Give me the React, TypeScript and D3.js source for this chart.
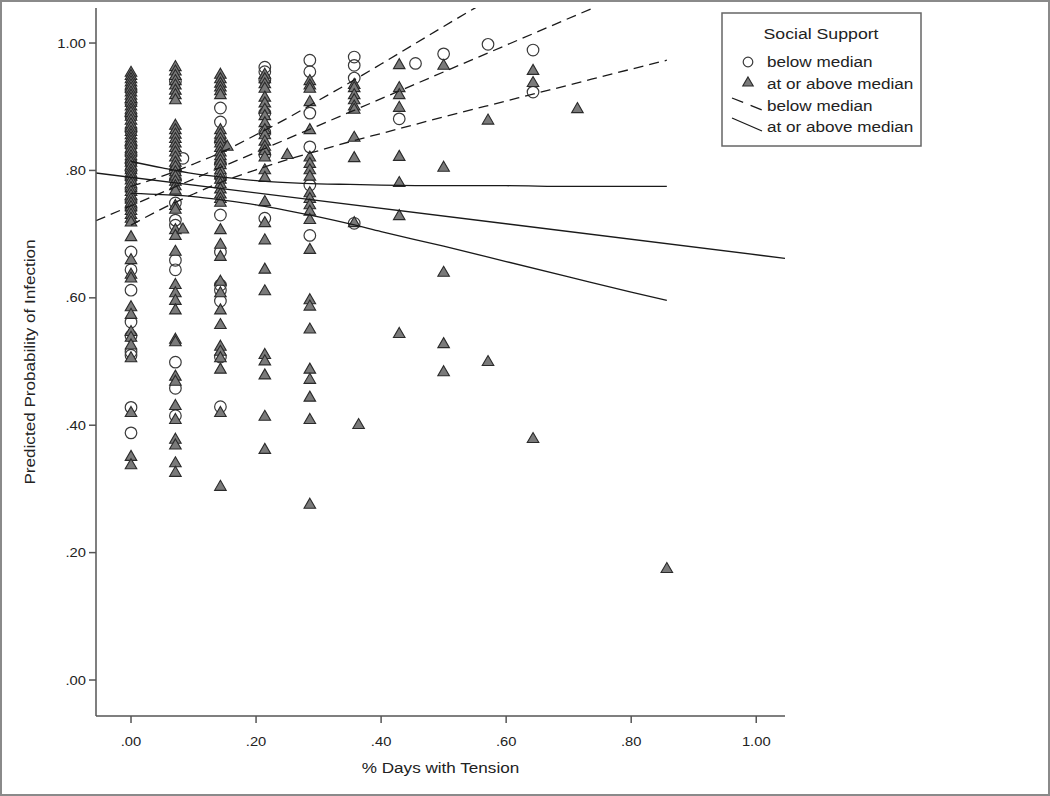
import React from 'react';
import * as d3 from 'd3';

const W = 1050;
const H = 796;

const xTickValues = [0, 0.2, 0.4, 0.6, 0.8, 1.0];
const xTickLabels = ['.00', '.20', '.40', '.60', '.80', '1.00'];
const yTickValues = [0, 0.2, 0.4, 0.6, 0.8, 1.0];
const yTickLabels = ['.00', '.20', '.40', '.60', '.80', '1.00'];
const xTitle = '% Days with Tension';
const yTitle = 'Predicted Probability of Infection';
const legendTitle = 'Social Support';
const groupLabels = ['below median', 'at or above median'];

// circles: social support below median  [x, y-values]
const belowMedian: [number, number[]][] = [
  [0, [0.925, 0.905, 0.885, 0.862, 0.838, 0.825, 0.812, 0.8, 0.787, 0.77, 0.752, 0.74, 0.672, 0.644, 0.612, 0.562, 0.54, 0.515, 0.51, 0.428, 0.388]],
  [0.071, [0.94, 0.8, 0.785, 0.749, 0.722, 0.714, 0.659, 0.644, 0.499, 0.458, 0.415]],
  [0.083, [0.819]],
  [0.143, [0.898, 0.876, 0.845, 0.81, 0.79, 0.73, 0.672, 0.62, 0.612, 0.595, 0.507, 0.429]],
  [0.214, [0.962, 0.955, 0.942, 0.89, 0.86, 0.825, 0.725]],
  [0.286, [0.973, 0.955, 0.89, 0.837, 0.777, 0.698]],
  [0.357, [0.978, 0.965, 0.945, 0.717]],
  [0.429, [0.881]],
  [0.455, [0.968]],
  [0.5, [0.983]],
  [0.571, [0.998]],
  [0.643, [0.989, 0.923]],
];

// triangles: social support at or above median
const atOrAboveMedian: [number, number[]][] = [
  [0, [0.953, 0.948, 0.943, 0.938, 0.933, 0.928, 0.922, 0.917, 0.912, 0.906, 0.9, 0.895, 0.89, 0.884, 0.878, 0.872, 0.866, 0.86, 0.855, 0.85, 0.845, 0.84, 0.834, 0.828, 0.822, 0.817, 0.812, 0.806, 0.8, 0.795, 0.79, 0.784, 0.778, 0.772, 0.766, 0.76, 0.754, 0.748, 0.742, 0.736, 0.73, 0.724, 0.718, 0.695, 0.659, 0.636, 0.63, 0.585, 0.573, 0.546, 0.537, 0.525, 0.505, 0.419, 0.35, 0.337]],
  [0.071, [0.962, 0.955, 0.948, 0.94, 0.933, 0.925, 0.918, 0.91, 0.87, 0.863, 0.856, 0.849, 0.842, 0.835, 0.828, 0.82, 0.812, 0.805, 0.797, 0.79, 0.782, 0.775, 0.768, 0.744, 0.738, 0.706, 0.697, 0.672, 0.62, 0.607, 0.595, 0.58, 0.534, 0.53, 0.476, 0.468, 0.43, 0.408, 0.377, 0.368, 0.34, 0.325]],
  [0.083, [0.707]],
  [0.143, [0.95, 0.943, 0.936, 0.93, 0.924, 0.918, 0.863, 0.856, 0.849, 0.842, 0.835, 0.828, 0.822, 0.815, 0.808, 0.8, 0.792, 0.785, 0.778, 0.77, 0.762, 0.755, 0.749, 0.706, 0.683, 0.664, 0.625, 0.607, 0.58, 0.557, 0.523, 0.515, 0.505, 0.487, 0.419, 0.303]],
  [0.154, [0.837]],
  [0.214, [0.95, 0.943, 0.935, 0.928, 0.914, 0.905, 0.895, 0.885, 0.874, 0.863, 0.855, 0.845, 0.837, 0.83, 0.82, 0.8, 0.788, 0.75, 0.717, 0.69, 0.644, 0.61, 0.51, 0.5, 0.478, 0.413, 0.361]],
  [0.25, [0.824]],
  [0.286, [0.94, 0.933, 0.928, 0.907, 0.863, 0.82, 0.81, 0.8, 0.79, 0.764, 0.755, 0.745, 0.735, 0.722, 0.675, 0.596, 0.586, 0.55, 0.487, 0.471, 0.443, 0.408, 0.275]],
  [0.357, [0.934, 0.929, 0.918, 0.91, 0.9, 0.895, 0.851, 0.819, 0.717]],
  [0.364, [0.4]],
  [0.429, [0.965, 0.929, 0.918, 0.898, 0.821, 0.78, 0.728, 0.543]],
  [0.5, [0.964, 0.804, 0.639, 0.527, 0.483]],
  [0.571, [0.878, 0.499]],
  [0.643, [0.956, 0.937, 0.378]],
  [0.714, [0.896]],
  [0.857, [0.174]],
];

// fit lines (endpoints at the axis limits) and 95% CI bands
const fitX = [-0.056, 1.046];
const belowFitY = [0.721, 1.184];
const aboveFitY = [0.796, 0.662];

const bandX = [0, 0.05, 0.1, 0.15, 0.2, 0.25, 0.3, 0.35, 0.4, 0.5, 0.6, 0.7, 0.8, 0.857];
const belowUpper = [0.775, 0.791, 0.81, 0.831, 0.856, 0.882, 0.91, 0.938, 0.967, 1.026, 1.084, 1.143, 1.203, 1.236];
const belowLower = [0.714, 0.74, 0.763, 0.784, 0.801, 0.817, 0.831, 0.845, 0.858, 0.884, 0.909, 0.934, 0.959, 0.973];
const aboveUpper = [0.814, 0.804, 0.795, 0.789, 0.784, 0.781, 0.779, 0.778, 0.777, 0.776, 0.776, 0.775, 0.775, 0.775];
const aboveLower = [0.764, 0.762, 0.759, 0.753, 0.746, 0.737, 0.727, 0.716, 0.704, 0.681, 0.657, 0.633, 0.609, 0.596];

const xDomain = [-0.056, 1.046];
const yDomain = [-0.0565, 1.055];

const PLOT = { left: 96, right: 785, top: 8, bottom: 716 };
const FONT = '"Liberation Sans", Arial, sans-serif';
const SX = 1.18;
const TEXT = '#222';
const AXIS = '#555';
const LINE = '#1a1a1a';
const DASH = '10,6';

function T(props: { x: number; y: number; anchor?: string; size: number; rotate?: number; children: React.ReactNode }) {
  const { x, y, anchor = 'start', size, rotate = 0, children } = props;
  return (
    <text
      transform={`translate(${x},${y}) rotate(${rotate}) scale(${SX},1)`}
      textAnchor={anchor}
      fontSize={size}
      fontFamily={FONT}
      fill={TEXT}
    >
      {children}
    </text>
  );
}

export default function App() {
  const x = d3.scaleLinear().domain(xDomain).range([PLOT.left, PLOT.right]);
  const y = d3.scaleLinear().domain(yDomain).range([PLOT.bottom, PLOT.top]);

  const tri = d3.symbol().type(d3.symbolTriangle).size(58)();
  const triLegend = d3.symbol().type(d3.symbolTriangle).size(48)();

  const straight = d3.line<[number, number]>().x((d) => x(d[0])).y((d) => y(d[1]));
  const curved = d3
    .line<[number, number]>()
    .x((d) => x(d[0]))
    .y((d) => y(d[1]))
    .curve(d3.curveMonotoneX);

  const pairs = (xs: number[], ys: number[]) => xs.map((v, i) => [v, ys[i]] as [number, number]);

  const circles = belowMedian.flatMap(([cx, ys]) => ys.map((v) => [cx, v] as [number, number]));
  const triangles = atOrAboveMedian.flatMap(([cx, ys]) => ys.map((v) => [cx, v] as [number, number]));

  return (
    <svg
      width={W}
      height={H}
      style={{ position: 'absolute', left: 0, top: 0, background: '#fff' }}
    >
      <rect x={0} y={0} width={W} height={H} fill="#fff" />
      <rect x={1} y={1} width={W - 2} height={H - 2} fill="none" stroke="#8a8a8a" strokeWidth={2} />
      <defs>
        <clipPath id="plotClip">
          <rect x={PLOT.left} y={PLOT.top} width={PLOT.right - PLOT.left} height={PLOT.bottom - PLOT.top} />
        </clipPath>
      </defs>

      {/* points */}
      <g>
        {circles.map((d, i) => (
          <circle key={'c' + i} cx={x(d[0])} cy={y(d[1])} r={5.8} fill="none" stroke="#3a3a3a" strokeWidth={1.2} />
        ))}
        {triangles.map((d, i) => (
          <path
            key={'t' + i}
            d={tri}
            transform={`translate(${x(d[0])},${y(d[1])})`}
            fill="#7a7a7a"
            stroke="#2a2a2a"
            strokeWidth={1.1}
          />
        ))}
      </g>

      {/* fit lines and confidence bands */}
      <g clipPath="url(#plotClip)" fill="none" stroke={LINE} strokeWidth={1.3}>
        <path d={straight(pairs(fitX, belowFitY)) || ''} strokeDasharray={DASH} />
        <path d={curved(pairs(bandX, belowUpper)) || ''} strokeDasharray={DASH} />
        <path d={curved(pairs(bandX, belowLower)) || ''} strokeDasharray={DASH} />
        <path d={straight(pairs(fitX, aboveFitY)) || ''} />
        <path d={curved(pairs(bandX, aboveUpper)) || ''} />
        <path d={curved(pairs(bandX, aboveLower)) || ''} />
      </g>

      {/* axes */}
      <g stroke={AXIS} strokeWidth={1.5}>
        <line x1={PLOT.left} y1={PLOT.top} x2={PLOT.left} y2={PLOT.bottom} />
        <line x1={PLOT.left} y1={PLOT.bottom} x2={PLOT.right} y2={PLOT.bottom} />
        {yTickValues.map((v) => (
          <line key={'yt' + v} x1={PLOT.left - 7} x2={PLOT.left} y1={y(v)} y2={y(v)} />
        ))}
        {xTickValues.map((v) => (
          <line key={'xt' + v} x1={x(v)} x2={x(v)} y1={PLOT.bottom} y2={PLOT.bottom + 7} />
        ))}
      </g>
      {yTickValues.map((v, i) => (
        <T key={'yl' + v} x={86} y={y(v) + 4.5} anchor="end" size={12.5}>
          {yTickLabels[i]}
        </T>
      ))}
      {xTickValues.map((v, i) => (
        <T key={'xl' + v} x={x(v)} y={746} anchor="middle" size={12.5}>
          {xTickLabels[i]}
        </T>
      ))}
      <T x={(PLOT.left + PLOT.right) / 2} y={773} anchor="middle" size={14.5}>
        {xTitle}
      </T>
      <T x={35} y={(PLOT.top + PLOT.bottom) / 2} anchor="middle" size={14.5} rotate={-90}>
        {yTitle}
      </T>

      {/* legend */}
      <g>
        <rect x={722} y={13} width={199} height={133} fill="#fff" stroke="#666" strokeWidth={1.5} />
        <T x={821} y={39} anchor="middle" size={15}>
          {legendTitle}
        </T>
        <circle cx={748} cy={62} r={4.8} fill="none" stroke="#3a3a3a" strokeWidth={1.2} />
        <T x={767} y={67} size={14.5}>{groupLabels[0]}</T>
        <path d={triLegend} transform="translate(748,83)" fill="#7a7a7a" stroke="#2a2a2a" strokeWidth={1.1} />
        <T x={767} y={89} size={14.5}>{groupLabels[1]}</T>
        <line x1={732} y1={98} x2={762} y2={110} stroke={LINE} strokeWidth={1.3} strokeDasharray="12,8" />
        <T x={767} y={111} size={14.5}>{groupLabels[0]}</T>
        <line x1={732} y1={118} x2={762} y2={131} stroke={LINE} strokeWidth={1.3} />
        <T x={767} y={132} size={14.5}>{groupLabels[1]}</T>
      </g>
    </svg>
  );
}
